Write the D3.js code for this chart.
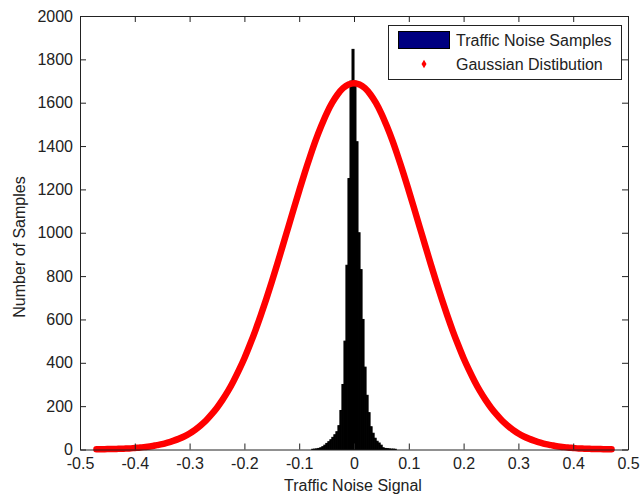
<!DOCTYPE html>
<html>
<meta charset="UTF-8">
<head>
<title>Traffic Noise Histogram</title>
<style>
    body { margin: 0; background: #fff; }
    svg { display: block; font-family: "Liberation Sans", Arial, sans-serif; }
    .tick text { font-size: 16px; font-family: "Liberation Sans", Arial, sans-serif; fill: #222; }
    .axis path, .axis line { stroke: #222; stroke-width: 1px; }
    .label { font-size: 16px; fill: #222; }
</style>
</head>
<body>
<div id="chart"></div>
<script src="https://cdnjs.cloudflare.com/ajax/libs/d3/7.8.5/d3.min.js"></script>
<script>
    // histogram of the traffic noise samples (bin centres and counts)
    let binWidth = 0.003672;
    let binCenters = [-0.0753, -0.0716, -0.0679, -0.0643, -0.0606, -0.0569, -0.0532, -0.0496, -0.0459, -0.0422,
        -0.0386, -0.0349, -0.0312, -0.0275, -0.0239, -0.0202, -0.0165, -0.0129, -0.0092, -0.0055, -0.0018,
        0.0018, 0.0055, 0.0092, 0.0129, 0.0165, 0.0202, 0.0239, 0.0275, 0.0312, 0.0349, 0.0386,
        0.0422, 0.0459, 0.0496, 0.0532, 0.0569, 0.0606, 0.0643, 0.0679, 0.0716, 0.0753];
    let binCounts = [1, 2, 3, 5, 8, 13, 20, 28, 36, 45,
        56, 68, 82, 110, 180, 300, 500, 850, 1250, 1700, 1846,
        1700, 1420, 1000, 830, 600, 380, 250, 170, 105, 75, 52,
        38, 30, 20, 8, 5, 4, 3, 2, 2, 1];

    // gaussian distribution points
    let gaussX = [-0.47, -0.46, -0.45, -0.44, -0.43, -0.42, -0.41, -0.40, -0.39, -0.38, -0.37, -0.36, -0.35, -0.34, -0.33, -0.32,
        -0.31, -0.30, -0.29, -0.28, -0.27, -0.26, -0.25, -0.24, -0.23, -0.22, -0.21, -0.20, -0.19, -0.18, -0.17, -0.16,
        -0.15, -0.14, -0.13, -0.12, -0.11, -0.10, -0.09, -0.08, -0.07, -0.06, -0.05, -0.04, -0.03, -0.02, -0.01,
        0, 0.01, 0.02, 0.03, 0.04, 0.05, 0.06, 0.07, 0.08, 0.09, 0.10, 0.11, 0.12, 0.13, 0.14, 0.15,
        0.16, 0.17, 0.18, 0.19, 0.20, 0.21, 0.22, 0.23, 0.24, 0.25, 0.26, 0.27, 0.28, 0.29, 0.30, 0.31,
        0.32, 0.33, 0.34, 0.35, 0.36, 0.37, 0.38, 0.39, 0.40, 0.41, 0.42, 0.43, 0.44, 0.45, 0.46, 0.47];
    let gaussY = [1, 1, 2, 2, 3, 4, 5, 7, 9, 12, 15, 20, 25, 32, 40, 49,
        60, 74, 91, 111, 134, 162, 193, 229, 269, 315, 366, 421, 483, 549, 620, 695,
        774, 856, 940, 1025, 1110, 1194, 1276, 1353, 1426, 1491, 1550, 1599, 1638, 1667, 1684,
        1690, 1684, 1667, 1638, 1599, 1550, 1491, 1426, 1353, 1276, 1194, 1110, 1025, 940, 856, 774,
        695, 620, 549, 483, 421, 366, 315, 269, 229, 193, 162, 134, 111, 91, 74, 60,
        49, 40, 32, 25, 20, 15, 12, 9, 7, 5, 4, 3, 2, 2, 1, 1];

    let xTicks = [-0.5, -0.4, -0.3, -0.2, -0.1, 0, 0.1, 0.2, 0.3, 0.4, 0.5];
    let xTickLabels = ["-0.5", "-0.4", "-0.3", "-0.2", "-0.1", "0", "0.1", "0.2", "0.3", "0.4", "0.5"];
    let yTicks = [0, 200, 400, 600, 800, 1000, 1200, 1400, 1600, 1800, 2000];

    let width = 640, height = 496;
    let plotLeft = 80, plotRight = 628, plotTop = 16, plotBottom = 449.5;

    let svg = d3.select("#chart").append("svg")
        .attr("width", width)
        .attr("height", height);

    let x = d3.scaleLinear().domain([-0.5, 0.5]).range([plotLeft, plotRight]);
    let y = d3.scaleLinear().domain([0, 2000]).range([plotBottom, plotTop]);

    // histogram bars
    svg.append("g")
        .selectAll("rect")
        .data(binCenters)
        .enter()
        .append("rect")
        .attr("x", d => x(d - binWidth / 2))
        .attr("width", d => x(d + binWidth / 2) - x(d - binWidth / 2))
        .attr("y", (d, i) => y(binCounts[i]))
        .attr("height", (d, i) => y(0) - y(binCounts[i]))
        .attr("fill", "#000")
        .attr("stroke", "#000")
        .attr("stroke-width", 1);

    // gaussian curve, drawn thick like the dense dot markers
    let line = d3.line()
        .x((d, i) => x(gaussX[i]))
        .y(d => y(d))
        .curve(d3.curveCatmullRom);

    svg.append("path")
        .datum(gaussY)
        .attr("d", line)
        .attr("fill", "none")
        .attr("stroke", "#ff0000")
        .attr("stroke-width", 6.5)
        .attr("stroke-linecap", "round")
        .attr("stroke-linejoin", "round");

    // axes (box with inward ticks)
    svg.append("g")
        .attr("class", "axis")
        .attr("transform", "translate(0," + plotBottom + ")")
        .call(d3.axisBottom(x).tickValues(xTicks)
            .tickFormat((d, i) => xTickLabels[i])
            .tickSizeInner(-6).tickSizeOuter(0).tickPadding(8));

    svg.append("g")
        .attr("class", "axis")
        .attr("transform", "translate(0," + plotTop + ")")
        .call(d3.axisTop(x).tickValues(xTicks).tickFormat("")
            .tickSizeInner(-6).tickSizeOuter(0));

    svg.append("g")
        .attr("class", "axis")
        .attr("transform", "translate(" + plotLeft + ",0)")
        .call(d3.axisLeft(y).tickValues(yTicks)
            .tickFormat(d => String(d))
            .tickSizeInner(-6).tickSizeOuter(0).tickPadding(7));

    svg.append("g")
        .attr("class", "axis")
        .attr("transform", "translate(" + plotRight + ",0)")
        .call(d3.axisRight(y).tickValues(yTicks).tickFormat("")
            .tickSizeInner(-6).tickSizeOuter(0));

    // axis labels
    svg.append("text")
        .attr("class", "label")
        .attr("x", 353)
        .attr("y", 491)
        .attr("text-anchor", "middle")
        .text("Traffic Noise Signal");

    svg.append("text")
        .attr("class", "label")
        .attr("transform", "translate(25,247) rotate(-90)")
        .attr("text-anchor", "middle")
        .text("Number of Samples");

    // legend
    let legend = svg.append("g");
    legend.append("rect")
        .attr("x", 388.5).attr("y", 25.5)
        .attr("width", 233).attr("height", 54)
        .attr("fill", "#fff")
        .attr("stroke", "#222");
    legend.append("rect")
        .attr("x", 398.5).attr("y", 31.5)
        .attr("width", 51).attr("height", 17)
        .attr("fill", "#000080")
        .attr("stroke", "#000");
    legend.append("text")
        .attr("class", "label")
        .attr("x", 456).attr("y", 46)
        .text("Traffic Noise Samples");
    legend.append("path")
        .attr("d", d3.symbol(d3.symbolDiamond, 22)())
        .attr("transform", "translate(424,64)")
        .attr("fill", "#ff0000");
    legend.append("text")
        .attr("class", "label")
        .attr("x", 456).attr("y", 70)
        .text("Gaussian Distibution");
</script>
</body>
</html>
